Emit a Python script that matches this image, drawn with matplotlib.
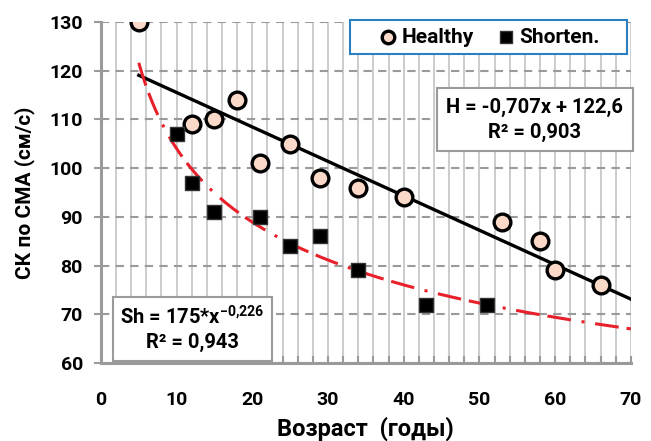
import matplotlib
matplotlib.use("Agg")
import matplotlib.pyplot as plt
from matplotlib.patches import Rectangle
import numpy as np

# Возраст / скорость кровотока
healthy_age = [5, 12, 15, 18, 21, 25, 29, 34, 40, 53, 58, 60, 66]
healthy_v = [130, 109, 110, 114, 101, 105, 98, 96, 94, 89, 85, 79, 76]
short_age = [10, 12, 15, 21, 25, 29, 34, 43, 51]
short_v = [107, 97, 91, 90, 84, 86, 79, 72, 72]

# коэффициенты трендов (из подписей)
h_slope, h_icpt = -0.707, 122.6
sh_a, sh_b = 175.0, -0.226
trend_x = [5, 70]

plt.rcParams["font.family"] = ["Roboto", "DejaVu Sans"]
plt.rcParams["font.weight"] = "bold"
plt.rcParams["mathtext.fontset"] = "custom"
plt.rcParams["mathtext.bf"] = "Roboto:bold"
plt.rcParams["mathtext.rm"] = "Roboto:bold"

fig = plt.figure(figsize=(6.51, 4.41), dpi=100)
ax = fig.add_axes([0.155, 0.177, 0.814, 0.773])

ax.set_xlim(0, 70)
ax.set_ylim(60, 130)
ax.set_xticks(np.arange(0, 71, 10))
ax.set_xticks(np.arange(0, 71, 2), minor=True)
ax.set_yticks(np.arange(60, 131, 10))

ax.grid(which="minor", axis="x", color="#c8c8c8", lw=1.3)
ax.grid(which="major", axis="x", color="#c8c8c8", lw=1.3)
ax.grid(which="major", axis="y", color="#9a9a9a", lw=1.5, ls=(0, (4, 3)))
ax.set_axisbelow(True)

for s in ["top", "right"]:
    ax.spines[s].set_visible(False)
for s in ["left", "bottom"]:
    ax.spines[s].set_color("#9a9a9a")
    ax.spines[s].set_linewidth(2.2)

ax.tick_params(axis="y", which="major", length=5, width=1.5, color="#9a9a9a",
               labelsize=14, pad=8)
ax.tick_params(axis="x", which="both", direction="in", length=5, width=1.5,
               color="#9a9a9a", labelsize=14, pad=20)

tx = np.linspace(trend_x[0], trend_x[1], 300)
ax.plot(tx, h_icpt + h_slope * tx, color="black", lw=2.4, zorder=3)
ax.plot(tx, sh_a * tx ** sh_b, color="#e8202a", lw=2.2,
        ls=(0, (7.8, 2.6, 7.8, 3.5, 1, 3.5)), zorder=3)

ax.scatter(healthy_age, healthy_v, s=145, marker="o", facecolor="#fbd9c8",
           edgecolor="black", linewidth=2.4, zorder=4, label="Healthy")
ax.scatter(short_age, short_v, s=115, marker="s", facecolor="black",
           edgecolor="#333333", linewidth=1, zorder=4, label="Shorten.")

# рамка легенды
ax.add_patch(Rectangle((0.470, 0.906), 0.5225, 0.100, transform=ax.transAxes,
                       fc="white", ec="#2a7fc0", lw=1.5, zorder=5,
                       clip_on=False))
leg = ax.legend(loc="center", bbox_to_anchor=(0.731, 0.956), ncol=2,
                fontsize=15, frameon=False, handletextpad=0.1,
                handlelength=1.1, columnspacing=1.0, markerscale=0.75)
leg.set_zorder(6)
for t in leg.get_texts():
    t.set_fontweight("bold")

# рамки с уравнениями
ax.add_patch(Rectangle((0.634, 0.622), 0.370, 0.184, transform=ax.transAxes,
                       fc="white", ec="#9a9a9a", lw=1.5, zorder=5,
                       clip_on=False))
ax.text(0.819, 0.714, "H = -0,707x + 122,6\nR² = 0,903", transform=ax.transAxes,
        ha="center", va="center", fontsize=14.5, fontweight="bold",
        linespacing=1.4, zorder=6)
ax.add_patch(Rectangle((0.0226, 0.006), 0.300, 0.1875, transform=ax.transAxes,
                       fc="white", ec="#9a9a9a", lw=1.5, zorder=5,
                       clip_on=False))
ax.text(0.1726, 0.0997, "Sh = 175*x$^{\\mathbf{-0{,}226}}$\nR² = 0,943",
        transform=ax.transAxes, ha="center", va="center", fontsize=14.5,
        fontweight="bold", linespacing=1.3, zorder=6)

ax.set_xlabel("Возраст  (годы)", fontsize=17, fontweight="bold", labelpad=6)
ax.set_ylabel("СК по СМА (см/с)", fontsize=15, fontweight="bold", labelpad=10)

fig.savefig("out.png", dpi=100)
